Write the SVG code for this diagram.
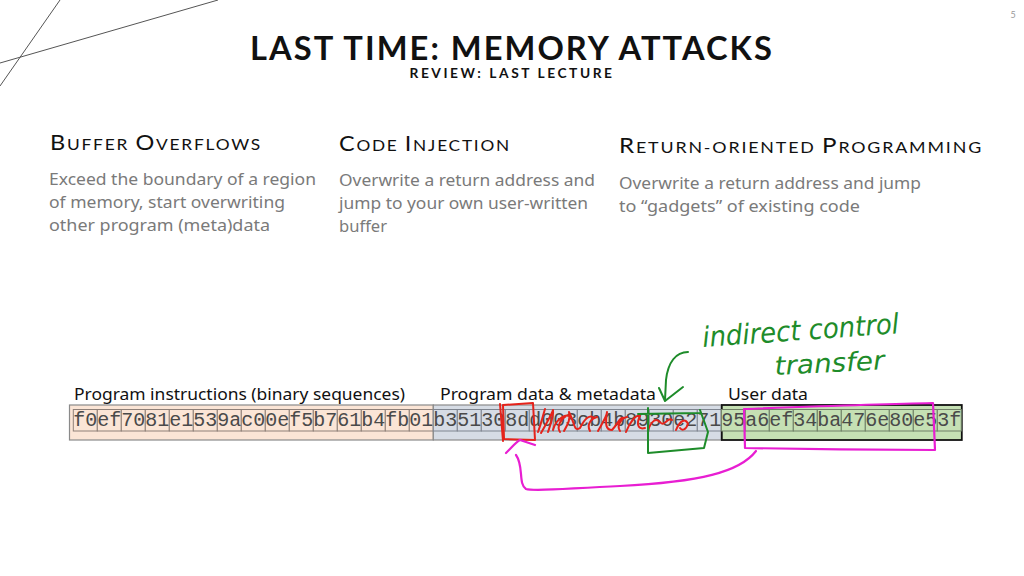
<svg xmlns="http://www.w3.org/2000/svg" width="1024" height="576" viewBox="0 0 1024 576">
<style>
.title{font-family:Lato,"Noto Sans",sans-serif;font-weight:700;fill:#111}
.hd{font-family:Lato,"Noto Sans",sans-serif;font-size:15.5px;fill:#111;letter-spacing:1.6px}
.hd .big{font-size:21px}
.body{font-family:"Noto Sans",Lato,sans-serif;font-size:16px;fill:#7a7a7a}
.lbl{font-family:"Noto Sans",Lato,sans-serif;font-size:16.5px;fill:#111}
.hex{font-family:"Liberation Mono","Courier New",monospace;font-size:20px;fill:#4a4a4a}
.cellO{fill:#fbe5d6;stroke:#8f8078;stroke-width:1}
.cellB{fill:#d6dce5;stroke:#7f8590;stroke-width:1}
.cellG{fill:#c5e0b4;stroke:#6f7f66;stroke-width:1}
.ink{fill:none;stroke-linecap:round;stroke-linejoin:round}
.red{stroke:#e5231b;stroke-width:2}
.grn{stroke:#1e8c2a;stroke-width:2}
.mag{stroke:#e81ed2;stroke-width:2.2}
.hand{font-family:"DejaVu Sans",sans-serif;font-weight:200;font-style:italic;fill:#1e8c2a}
</style>
<rect width="1024" height="576" fill="#fff"/>
<g id="decor" stroke="#555" stroke-width="1">
<line x1="0" y1="63" x2="218" y2="0"/>
<line x1="0" y1="86" x2="60" y2="0"/>
</g>
<text x="1013" y="18" font-family="Lato,sans-serif" font-size="9" fill="#999" text-anchor="middle">5</text>
<g id="title">
<text class="title" x="512" y="60" font-size="32" text-anchor="middle" letter-spacing="2" textLength="524" lengthAdjust="spacingAndGlyphs">LAST TIME: MEMORY ATTACKS</text>
<text class="title" x="512" y="78" font-size="13.5" text-anchor="middle" letter-spacing="2.5" textLength="205" lengthAdjust="spacingAndGlyphs">REVIEW: LAST LECTURE</text>
</g>
<g id="col-buffer-overflows">
<text class="hd" x="50" y="150" textLength="212" lengthAdjust="spacingAndGlyphs"><tspan class="big">B</tspan>UFFER <tspan class="big">O</tspan>VERFLOWS</text>
<text class="body" x="49" y="185" textLength="267" lengthAdjust="spacingAndGlyphs">Exceed the boundary of a region</text>
<text class="body" x="49" y="208" textLength="236" lengthAdjust="spacingAndGlyphs">of memory, start overwriting</text>
<text class="body" x="49" y="231" textLength="221" lengthAdjust="spacingAndGlyphs">other program (meta)data</text>
</g>
<g id="col-code-injection">
<text class="hd" x="339" y="151" textLength="172" lengthAdjust="spacingAndGlyphs"><tspan class="big">C</tspan>ODE <tspan class="big">I</tspan>NJECTION</text>
<text class="body" x="339" y="186" textLength="256" lengthAdjust="spacingAndGlyphs">Overwrite a return address and</text>
<text class="body" x="339" y="209" textLength="249" lengthAdjust="spacingAndGlyphs">jump to your own user-written</text>
<text class="body" x="339" y="232" textLength="48" lengthAdjust="spacingAndGlyphs">buffer</text>
</g>
<g id="col-rop">
<text class="hd" x="619" y="153" textLength="364" lengthAdjust="spacingAndGlyphs"><tspan class="big">R</tspan>ETURN-ORIENTED <tspan class="big">P</tspan>ROGRAMMING</text>
<text class="body" x="619" y="189" textLength="302" lengthAdjust="spacingAndGlyphs">Overwrite a return address and jump</text>
<text class="body" x="619" y="212" textLength="241" lengthAdjust="spacingAndGlyphs">to “gadgets” of existing code</text>
</g>
<g id="seg-instructions">
<text class="lbl" x="74" y="400" textLength="331" lengthAdjust="spacingAndGlyphs">Program instructions (binary sequences)</text>
<rect x="69.5" y="405" width="363.8" height="35" fill="#fbe5d6" stroke="#8a8a8a" stroke-width="1.2"/>
<g class="cellO">
<rect x="73.3" y="409.5" width="24" height="21.5"/><rect x="97.3" y="409.5" width="24" height="21.5"/><rect x="121.3" y="409.5" width="24" height="21.5"/><rect x="145.3" y="409.5" width="24" height="21.5"/><rect x="169.3" y="409.5" width="24" height="21.5"/><rect x="193.3" y="409.5" width="24" height="21.5"/><rect x="217.3" y="409.5" width="24" height="21.5"/><rect x="241.3" y="409.5" width="24" height="21.5"/><rect x="265.3" y="409.5" width="24" height="21.5"/><rect x="289.3" y="409.5" width="24" height="21.5"/><rect x="313.3" y="409.5" width="24" height="21.5"/><rect x="337.3" y="409.5" width="24" height="21.5"/><rect x="361.3" y="409.5" width="24" height="21.5"/><rect x="385.3" y="409.5" width="24" height="21.5"/><rect x="409.3" y="409.5" width="24" height="21.5"/>
</g>
<text class="hex" x="73.3" y="426">f0ef7081e1539ac00ef5b761b4fb01</text>
</g>
<g id="seg-data">
<text class="lbl" x="440" y="400" textLength="216" lengthAdjust="spacingAndGlyphs">Program data &amp; metadata</text>
<rect x="433.3" y="405" width="288" height="35" fill="#d6dce5" stroke="#8a8a8a" stroke-width="1.2"/>
<g class="cellB">
<rect x="433.3" y="409.5" width="24" height="21.5"/><rect x="457.3" y="409.5" width="24" height="21.5"/><rect x="481.3" y="409.5" width="24" height="21.5"/><rect x="505.3" y="409.5" width="24" height="21.5"/><rect x="529.3" y="409.5" width="24" height="21.5"/><rect x="553.3" y="409.5" width="24" height="21.5"/><rect x="577.3" y="409.5" width="24" height="21.5"/><rect x="601.3" y="409.5" width="24" height="21.5"/><rect x="625.3" y="409.5" width="24" height="21.5"/><rect x="649.3" y="409.5" width="24" height="21.5"/><rect x="673.3" y="409.5" width="24" height="21.5"/><rect x="697.3" y="409.5" width="24" height="21.5"/>
</g>
<text class="hex" x="433.3" y="426">b351308dd003cb4b8930e271</text>
</g>
<g id="seg-user">
<text class="lbl" x="728" y="400" textLength="80" lengthAdjust="spacingAndGlyphs">User data</text>
<rect x="721.8" y="405" width="240" height="35" fill="#c5e0b4" stroke="#111" stroke-width="1.8"/>
<g class="cellG">
<rect x="721.3" y="409.5" width="24" height="21.5"/><rect x="745.3" y="409.5" width="24" height="21.5"/><rect x="769.3" y="409.5" width="24" height="21.5"/><rect x="793.3" y="409.5" width="24" height="21.5"/><rect x="817.3" y="409.5" width="24" height="21.5"/><rect x="841.3" y="409.5" width="24" height="21.5"/><rect x="865.3" y="409.5" width="24" height="21.5"/><rect x="889.3" y="409.5" width="24" height="21.5"/><rect x="913.3" y="409.5" width="24" height="21.5"/><rect x="937.3" y="409.5" width="24" height="21.5"/>
</g>
<text class="hex" x="721.3" y="426">95a6ef34ba476e80e53f</text>
</g>
<g id="annotations">
<path class="ink red" d="M503,405 L533,403 L535,440 L504,439 Z M500,404 L503,441"/>
<path class="ink red" d="M538,432 C541,424 544,412 545,409 M541,433 C546,424 552,414 553,410 C554,416 550,426 548,432 M553,430 C556,418 567,413 570,417 M560,432 C556,426 562,418 566,416 M564,431 C568,424 571,418 569,412 C575,424 574,432 580,428 C585,418 590,414 594,418 M590,431 C586,424 592,418 597,417 M598,431 C603,422 607,416 607,412 C605,425 606,430 612,430 C618,424 620,416 624,418 M620,431 C616,425 622,418 627,417 M626,432 C630,422 636,414 640,416 C636,424 638,430 645,428 M648,430 C652,420 656,418 660,422 C664,428 668,416 672,420 M676,430 C680,420 686,418 688,424 C686,430 682,431 680,428"/>
<path class="ink grn" d="M638,414 L700,413 M648,408 L648,453 L704,448 L708,432 L700,410"/>
<text class="hand" x="703" y="347" font-size="28" textLength="197" lengthAdjust="spacingAndGlyphs" transform="rotate(-4 703 347)">indirect control</text>
<text class="hand" x="775" y="375" font-size="26" textLength="110" lengthAdjust="spacingAndGlyphs" transform="rotate(-3 775 375)">transfer</text>
<path class="ink mag" d="M745,409 C800,407 880,404 933,403 L935,450 C880,450 800,449 745,448 L744,409"/>
</g>
<g id="connectors">
<path class="ink grn" d="M688,352 C676,352 668,362 666,380 L665,400 M659,388 L665,401 L683,387"/>
<path class="ink mag" d="M756,451 C740,472 700,482 620,486 C570,488 535,492 526,489 C518,484 524,466 516,455 M506,453 C512,447 516,442 520,440 C526,442 532,444 535,445"/>
</g>
</svg>
